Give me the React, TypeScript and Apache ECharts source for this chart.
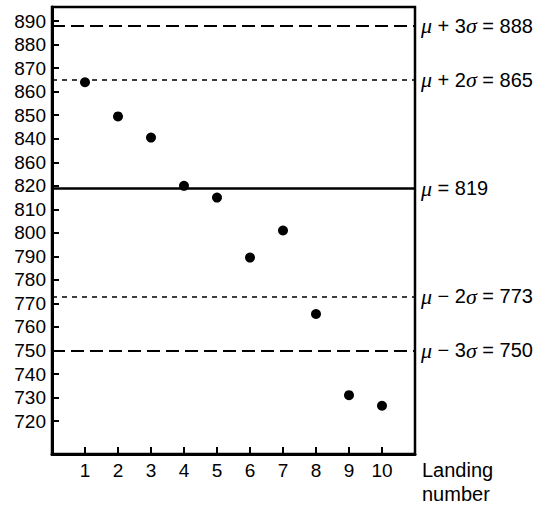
import React, { useEffect, useRef } from "react";
import * as echarts from "echarts";

// Landing number and measured value for each landing
const landings = [1, 2, 3, 4, 5, 6, 7, 8, 9, 10];
const measured = [864, 849.5, 840.5, 820, 815, 789.5, 801, 765.5, 731, 726.5];

// Y-axis tick positions and the labels printed beside them
const yTickValues = [720, 730, 740, 750, 760, 770, 780, 790, 800, 810, 820, 830, 840, 850, 860, 870, 880, 890];
const yTickLabels = ["720", "730", "740", "750", "760", "770", "780", "790", "800", "810", "820", "860", "840", "850", "860", "870", "880", "890"];

// Control limits: mean and ±2σ / ±3σ bands
const limitNames = ["μ + 3σ", "μ + 2σ", "μ", "μ − 2σ", "μ − 3σ"];
const limitValues = [888, 865, 819, 773, 750];
const limitKinds = ["long", "short", "solid", "short", "long"];

const FONT = '"Liberation Sans", Arial, Helvetica, sans-serif';

const lineStyleFor = (kind: string) => {
  if (kind === "solid") return { type: "solid" as const, width: 2.5, color: "#000" };
  if (kind === "long") return { type: [13, 6], width: 2, color: "#000" };
  return { type: [5, 5], width: 1.6, color: "#000" };
};

const richName = (name: string) => name.replace(/μ/g, "{g|μ}").replace(/σ/g, "{g|σ}");

export default function App() {
  const ref = useRef<HTMLDivElement>(null);

  useEffect(() => {
    if (!ref.current) return;
    const chart = echarts.init(ref.current, null, { renderer: "svg" });

    const markData = limitValues.map((v, i) => ({
      yAxis: v,
      lineStyle: lineStyleFor(limitKinds[i]),
      label: {
        show: true,
        position: "end" as const,
        distance: 6,
        formatter: `${richName(limitNames[i])} = ${v}`,
        color: "#000",
        fontSize: 20,
        fontFamily: FONT,
        rich: {
          g: {
            fontStyle: "italic" as const,
            fontFamily: '"Liberation Serif", "Times New Roman", serif',
            fontSize: 22,
            color: "#000",
          },
        },
      },
    }));

    chart.setOption({
      animation: false,
      backgroundColor: "#fff",
      grid: {
        left: 52,
        top: 7,
        right: 126,
        bottom: 49,
        show: true,
        borderColor: "#000",
        borderWidth: 2.5,
        backgroundColor: "transparent",
      },
      xAxis: {
        type: "value",
        min: 0,
        max: 11,
        interval: 1,
        splitLine: { show: false },
        axisLine: { show: true, lineStyle: { color: "#000", width: 3 } },
        axisTick: {
          show: true,
          inside: true,
          length: 7,
          lineStyle: { color: "#000", width: 2 },
          customValues: landings,
        },
        axisLabel: {
          color: "#000",
          fontSize: 19,
          fontFamily: FONT,
          margin: 7,
          customValues: landings,
          formatter: (v: number) => String(v),
        },
        name: "Landing\nnumber",
        nameLocation: "end",
        nameGap: 7,
        nameTextStyle: {
          color: "#000",
          fontSize: 20,
          fontFamily: FONT,
          align: "left",
          verticalAlign: "top",
          lineHeight: 24,
          padding: [4, 0, 0, 0],
        },
      },
      yAxis: {
        type: "value",
        min: 706,
        max: 896,
        splitLine: { show: false },
        axisLine: { show: true, lineStyle: { color: "#000", width: 3 } },
        axisTick: {
          show: true,
          inside: true,
          length: 7,
          lineStyle: { color: "#000", width: 2 },
          customValues: yTickValues,
        },
        axisLabel: {
          color: "#000",
          fontSize: 19,
          fontFamily: FONT,
          margin: 6,
          customValues: yTickValues,
          formatter: (v: number) => {
            const idx = yTickValues.indexOf(v);
            return idx >= 0 ? yTickLabels[idx] : "";
          },
        },
      },
      series: [
        {
          type: "scatter",
          data: landings.map((x, i) => [x, measured[i]]),
          symbol: "circle",
          symbolSize: 10,
          itemStyle: { color: "#000", opacity: 1 },
          z: 5,
          markLine: {
            silent: true,
            symbol: "none",
            precision: 0,
            data: markData,
          },
        },
      ],
    });

    return () => chart.dispose();
  }, []);

  return (
    <div
      ref={ref}
      style={{ position: "fixed", left: 0, top: 0, width: 541, height: 506, background: "#fff" }}
    />
  );
}
